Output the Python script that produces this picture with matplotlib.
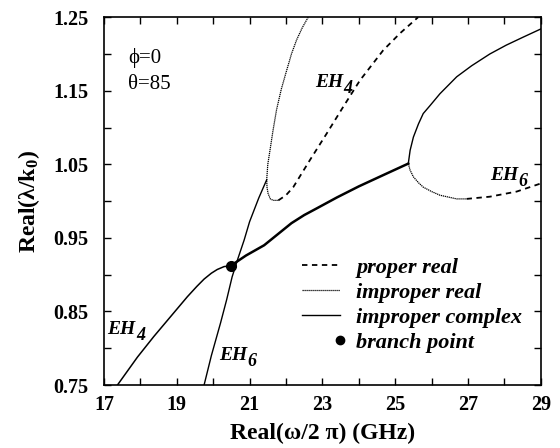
import numpy as np
import matplotlib.pyplot as plt
from matplotlib.lines import Line2D

plt.rcParams['font.family'] = ['Liberation Serif', 'DejaVu Serif']
plt.rcParams['mathtext.fontset'] = 'custom'
plt.rcParams['mathtext.rm'] = 'Liberation Serif:bold'
plt.rcParams['mathtext.it'] = 'Liberation Serif:bold:italic'
plt.rcParams['mathtext.bf'] = 'Liberation Serif:bold'

# EH4 improper complex (below the branch point)
eh4_cx_x = [17.37, 17.92, 18.37, 18.83, 19.29, 19.55, 19.75, 19.95, 20.11, 20.30, 20.48]
eh4_cx_y = [0.750, 0.788, 0.816, 0.843, 0.870, 0.884, 0.894, 0.902, 0.907, 0.911, 0.912]
# improper complex after branch point (thick)
main_x = [20.48, 20.9, 21.4, 21.8, 22.15, 22.5, 22.84, 23.4, 24.0, 24.7, 25.36]
main_y = [0.912, 0.926, 0.940, 0.956, 0.970, 0.981, 0.990, 1.005, 1.020, 1.036, 1.051]
# EH6 improper complex (left, thin)
eh6_cx_x = [19.75, 19.95, 20.2, 20.37, 20.52, 20.68, 20.85, 21.0, 21.25, 21.47]
eh6_cx_y = [0.750, 0.790, 0.834, 0.866, 0.897, 0.922, 0.947, 0.972, 1.004, 1.029]
# EH4 improper real
eh4_ir_x = [22.61, 22.45, 22.29, 22.15, 22.02, 21.87, 21.74, 21.64, 21.56, 21.50,
            21.47, 21.48, 21.51, 21.57, 21.65, 21.79]
eh4_ir_y = [1.250, 1.236, 1.219, 1.200, 1.178, 1.152, 1.124, 1.095, 1.069, 1.050,
            1.029, 1.018, 1.010, 1.003, 1.001, 1.001]
# EH4 proper real
eh4_pr_x = [21.79, 22.0, 22.2, 22.66, 23.12, 23.57, 24.03, 24.67, 25.13, 25.63]
eh4_pr_y = [1.001, 1.008, 1.019, 1.056, 1.092, 1.128, 1.164, 1.205, 1.228, 1.250]
# EH6 improper complex (right)
eh6_cx2_x = [25.36, 25.41, 25.5, 25.64, 25.77, 25.96, 26.23, 26.69, 27.1, 27.6,
             28.05, 28.52, 29.0]
eh6_cx2_y = [1.051, 1.069, 1.087, 1.105, 1.119, 1.130, 1.146, 1.169, 1.184, 1.200,
             1.212, 1.223, 1.234]
# EH6 improper real
eh6_ir_x = [25.36, 25.41, 25.5, 25.64, 25.77, 26.0, 26.23, 26.69, 26.96]
eh6_ir_y = [1.051, 1.042, 1.033, 1.025, 1.019, 1.013, 1.008, 1.003, 1.003]
# EH6 proper real
eh6_pr_x = [26.96, 27.6, 28.34, 29.0]
eh6_pr_y = [1.003, 1.006, 1.013, 1.024]
# branch point
bp_x, bp_y = 20.48, 0.912

fig = plt.figure(figsize=(5.6, 4.48), dpi=100)
ax = fig.add_axes([0.1857, 0.1406, 0.780, 0.821])

dash = (0, (3, 2.5))
dot = (0, (1, 0.6))
ax.plot(eh4_cx_x, eh4_cx_y, 'k-', lw=1.1)
ax.plot(main_x, main_y, 'k-', lw=1.8)
ax.plot(eh6_cx_x, eh6_cx_y, 'k-', lw=1.0)
ax.plot(eh4_ir_x, eh4_ir_y, color='k', ls=dot, lw=0.9)
ax.plot(eh4_pr_x, eh4_pr_y, color='k', ls=dash, lw=1.3)
ax.plot(eh6_cx2_x, eh6_cx2_y, 'k-', lw=1.0)
ax.plot(eh6_ir_x, eh6_ir_y, color='k', ls=dot, lw=0.9)
ax.plot(eh6_pr_x, eh6_pr_y, color='k', ls=dash, lw=1.3)
ax.plot(bp_x, bp_y, 'ko', ms=7)

ax.set_xlim(17, 29)
ax.set_ylim(0.75, 1.25)
ax.set_xticks([17, 19, 21, 23, 25, 27, 29])
ax.set_xticks(np.arange(17, 29.5, 1), minor=True)
ax.set_yticks([0.75, 0.85, 0.95, 1.05, 1.15, 1.25])
ax.set_yticks(np.arange(0.75, 1.26, 0.05), minor=True)
ax.tick_params(which='both', direction='in', top=True, right=True, width=1.0, length=5)
ax.tick_params(axis='both', which='major', labelsize=14.5)
ax.tick_params(axis='y', which='major', pad=11)
ax.tick_params(axis='x', which='major', pad=7)
for lab in ax.get_xticklabels() + ax.get_yticklabels():
    lab.set_fontweight('bold')
for s in ax.spines.values():
    s.set_linewidth(1.2)

ax.set_xlabel('Real(ω/2 π) (GHz)', fontsize=17, fontweight='bold', labelpad=6)
ax.set_ylabel(r'Real(λ/k$_{\rm 0}$)', fontsize=17, fontweight='bold', labelpad=8)

ax.text(17.66, 1.1875, 'ϕ=0', fontsize=15, va='baseline')
ax.text(17.66, 1.152, 'θ=85', fontsize=15, va='baseline')


def eh_label(x, y, n):
    t = ax.text(x, y, 'EH', fontsize=14, fontweight='bold', fontstyle='italic',
                va='baseline')
    fig.canvas.draw()
    w = t.get_window_extent().width * 72 / fig.dpi
    ax.annotate(n, xy=(x, y), xytext=(w + 0.3, -4.5), textcoords='offset points',
                fontsize=13, fontweight='bold', fontstyle='italic', va='baseline')


eh_label(22.80, 1.155, '4')
eh_label(27.60, 1.0285, '6')
eh_label(17.09, 0.820, '4')
eh_label(20.16, 0.784, '6')

handles = [
    Line2D([], [], color='k', ls=dash, lw=1.3),
    Line2D([], [], color='k', ls=dot, lw=0.9),
    Line2D([], [], color='k', ls='-', lw=1.0),
    Line2D([], [], color='k', ls='none', marker='o', ms=6),
]
labels = ['proper real', 'improper real', 'improper complex', 'branch point']
leg = ax.legend(handles, labels, loc='upper left', bbox_to_anchor=(0.453, 0.348),
                frameon=False, handlelength=1.7, handletextpad=0.75,
                labelspacing=0.2, borderaxespad=0, borderpad=0,
                prop={'weight': 'bold', 'style': 'italic', 'size': 16})
leg.legend_handles[3].set_markevery([2])

fig.savefig('out.png', dpi=100)
